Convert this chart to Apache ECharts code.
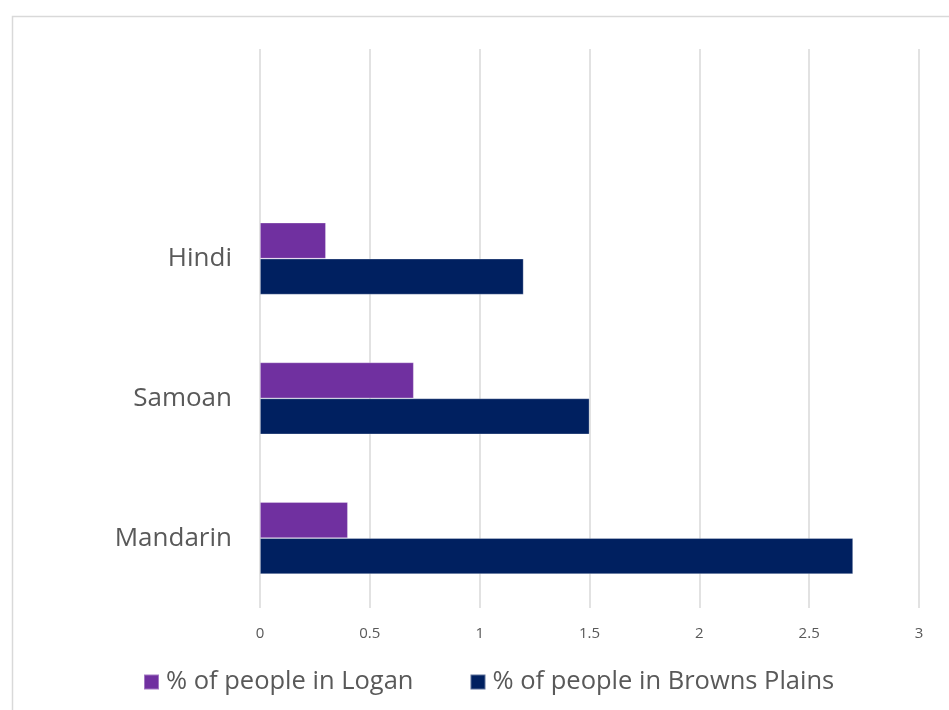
<!DOCTYPE html>
<html><head><meta charset="utf-8">
<script src="https://cdn.jsdelivr.net/npm/echarts@6/dist/echarts.min.js"></script>
<style>html,body{margin:0;padding:0;background:#fff}#c{width:949px;height:710px}</style>
</head><body><div id="c"></div>
<script>
const categories = ['Mandarin', 'Samoan', 'Hindi', ''];
const logan = [0.4, 0.7, 0.3, null];
const brownsPlains = [2.7, 1.5, 1.2, null];
const xTicks = [0, 0.5, 1, 1.5, 2, 2.5, 3];
const seriesNames = ['% of people in Logan', '% of people in Browns Plains'];

const font = '"Open Sans", sans-serif';
const chart = echarts.init(document.getElementById('c'), null, {renderer: 'canvas'});
chart.setOption({
  animation: false,
  graphic: [{type: 'rect', shape: {x: 12.5, y: 16.5, width: 1000, height: 800}, style: {fill: 'none', stroke: '#d9d9d9', lineWidth: 1.5}, silent: true}],
  grid: {left: 260, right: 30, top: 49, bottom: 102},
  legend: {
    data: seriesNames, left: 138, top: 664, itemWidth: 15, itemHeight: 15, itemGap: 56,
    icon: 'rect', textStyle: {fontFamily: font, fontSize: 25.5, color: '#595959', padding: [0,0,0,2]}
  },
  xAxis: {
    type: 'value', min: 0, max: 3, interval: 0.5,
    axisLine: {show: false}, axisTick: {show: false},
    splitLine: {lineStyle: {color: '#d9d9d9', width: 1.5}},
    axisLabel: {fontFamily: font, fontSize: 15, color: '#595959', margin: 18,
      formatter: v => xTicks.includes(v) ? String(v) : ''}
  },
  yAxis: {
    type: 'category', data: categories,
    axisLine: {show: false}, axisTick: {show: false},
    axisLabel: {fontFamily: font, fontSize: 26, color: '#595959', margin: 28}
  },
  series: [
    {name: seriesNames[0], type: 'bar', data: logan, barGap: '0%', barCategoryGap: '48.5%',
     itemStyle: {color: '#7030a0', borderColor: 'rgba(255,255,255,0.35)', borderWidth: 0.8}},
    {name: seriesNames[1], type: 'bar', data: brownsPlains, barGap: '0%', barCategoryGap: '48.5%',
     itemStyle: {color: '#002060', borderColor: 'rgba(255,255,255,0.35)', borderWidth: 0.8}}
  ]
});
</script></body></html>
